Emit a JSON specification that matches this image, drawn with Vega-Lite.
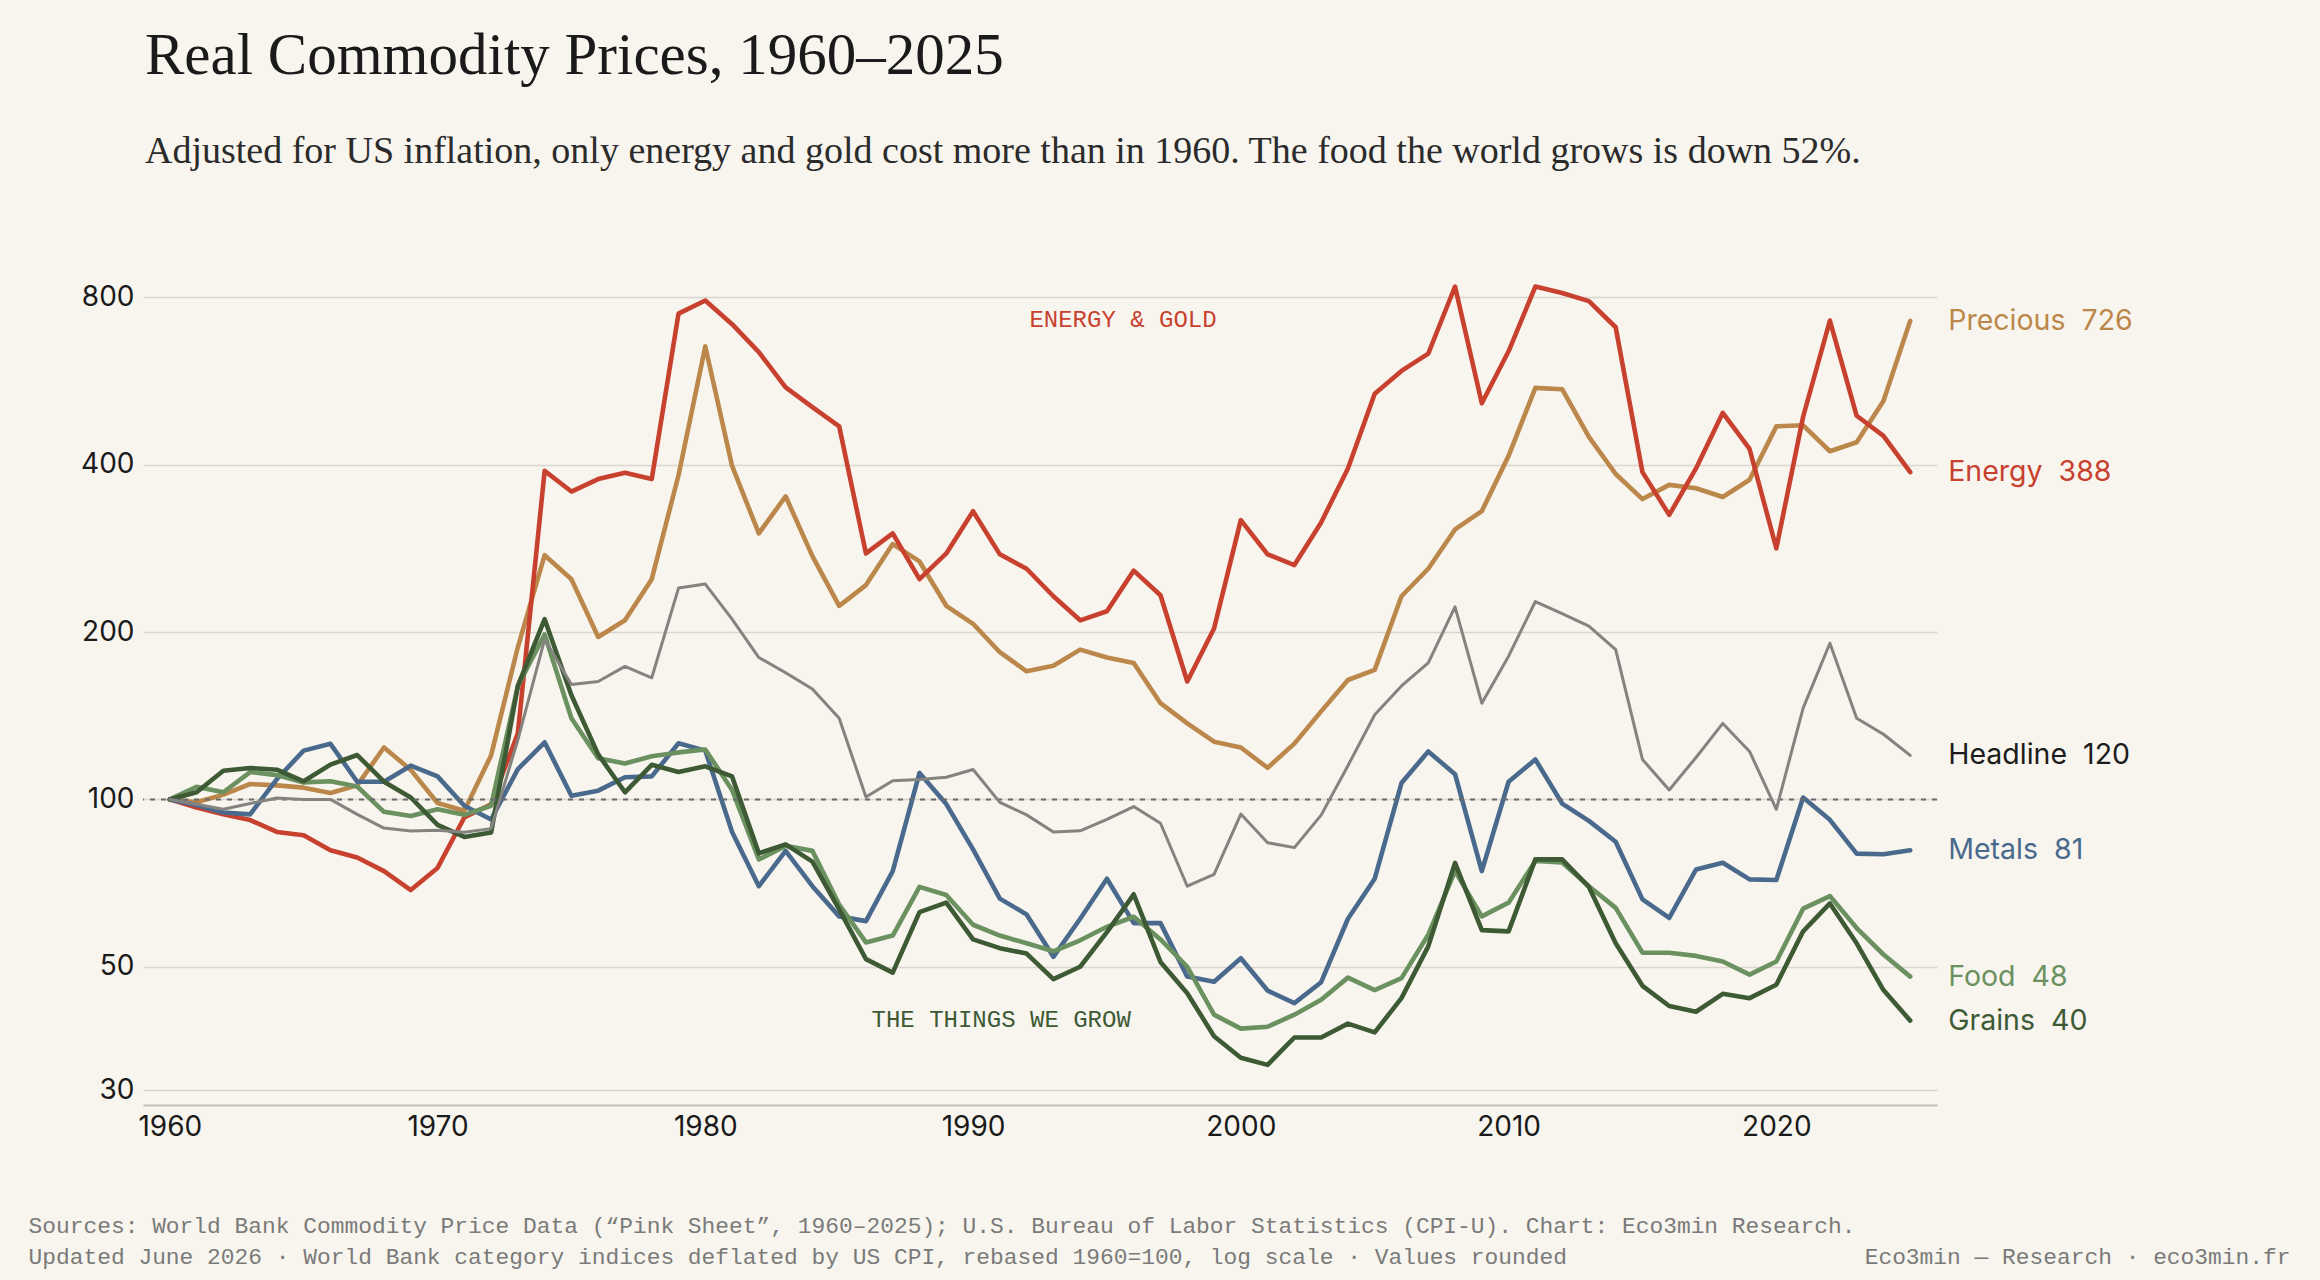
{
  "$schema": "https://vega.github.io/schema/vega-lite/v6.json",
  "width": 1794,
  "height": 836,
  "autosize": {"type": "none"},
  "padding": {"left": 143, "top": 269, "right": 383, "bottom": 175},
  "background": "#f8f5ee",
  "config": {"view": {"stroke": null}, "font": "Inter"},
  "title": {
    "text": "Real Commodity Prices, 1960–2025",
    "subtitle": "Adjusted for US inflation, only energy and gold cost more than in 1960. The food the world grows is down 52%.",
    "anchor": "start",
    "frame": "group",
    "dx": 2,
    "font": "Liberation Serif",
    "fontSize": 59,
    "fontWeight": "normal",
    "color": "#1a1a1a",
    "subtitleFont": "Liberation Serif",
    "subtitleFontSize": 38,
    "subtitleColor": "#2b2b2b",
    "subtitlePadding": 47,
    "offset": 98
  },
  "datasets": {
    "prices": [
      {"year":1960,"Energy":100,"Precious":100,"Headline":100,"Metals":100,"Food":100,"Grains":100},
      {"year":1961,"Energy":96.7,"Precious":98.8,"Headline":98,"Metals":97.7,"Food":105.4,"Grains":103},
      {"year":1962,"Energy":94,"Precious":102,"Headline":96,"Metals":94.7,"Food":103,"Grains":112.6},
      {"year":1963,"Energy":91.8,"Precious":106.6,"Headline":98.3,"Metals":94,"Food":112,"Grains":113.9},
      {"year":1964,"Energy":87.4,"Precious":106,"Headline":100.6,"Metals":108.8,"Food":110.6,"Grains":113.1},
      {"year":1965,"Energy":86.2,"Precious":105,"Headline":100,"Metals":122.4,"Food":107.3,"Grains":107.8},
      {"year":1966,"Energy":81,"Precious":102.7,"Headline":100,"Metals":125.9,"Food":107.8,"Grains":115.5},
      {"year":1967,"Energy":78.6,"Precious":106,"Headline":94,"Metals":107.6,"Food":105.5,"Grains":120.2},
      {"year":1968,"Energy":74.3,"Precious":124,"Headline":88.8,"Metals":107.6,"Food":95,"Grains":107.6},
      {"year":1969,"Energy":68.7,"Precious":113,"Headline":87.7,"Metals":115,"Food":93.4,"Grains":100.8},
      {"year":1970,"Energy":75.3,"Precious":98.5,"Headline":88,"Metals":110,"Food":96,"Grains":90},
      {"year":1971,"Energy":92.8,"Precious":95.4,"Headline":87.3,"Metals":97.4,"Food":93.8,"Grains":85.6},
      {"year":1972,"Energy":98,"Precious":120,"Headline":88.6,"Metals":92,"Food":97.4,"Grains":87.2},
      {"year":1973,"Energy":131.5,"Precious":188,"Headline":128,"Metals":113.4,"Food":160,"Grains":160},
      {"year":1974,"Energy":390,"Precious":275,"Headline":194,"Metals":126.7,"Food":198,"Grains":211},
      {"year":1975,"Energy":358,"Precious":249,"Headline":161,"Metals":101.5,"Food":140,"Grains":154},
      {"year":1976,"Energy":377,"Precious":196,"Headline":163,"Metals":103.7,"Food":118.6,"Grains":120.5},
      {"year":1977,"Energy":387,"Precious":210,"Headline":173.5,"Metals":109.6,"Food":116,"Grains":103},
      {"year":1978,"Energy":377,"Precious":249,"Headline":165.5,"Metals":110,"Food":119.6,"Grains":115.4},
      {"year":1979,"Energy":748,"Precious":383,"Headline":240,"Metals":126.2,"Food":121.5,"Grains":112},
      {"year":1980,"Energy":790,"Precious":653,"Headline":244,"Metals":122.4,"Food":123,"Grains":114.7},
      {"year":1981,"Energy":716,"Precious":398,"Headline":211,"Metals":87.4,"Food":104,"Grains":110},
      {"year":1982,"Energy":638,"Precious":301,"Headline":180,"Metals":69.8,"Food":78,"Grains":80},
      {"year":1983,"Energy":551,"Precious":351,"Headline":169,"Metals":80.8,"Food":82.5,"Grains":83},
      {"year":1984,"Energy":508,"Precious":274,"Headline":158,"Metals":69.8,"Food":80.8,"Grains":77.3},
      {"year":1985,"Energy":469,"Precious":223,"Headline":140,"Metals":61.6,"Food":64.7,"Grains":63.4},
      {"year":1986,"Energy":277,"Precious":243,"Headline":101,"Metals":60.4,"Food":55.3,"Grains":51.6},
      {"year":1987,"Energy":301,"Precious":288,"Headline":108,"Metals":74.3,"Food":56.9,"Grains":48.8},
      {"year":1988,"Energy":249,"Precious":268,"Headline":108.6,"Metals":111.6,"Food":69.6,"Grains":62.7},
      {"year":1989,"Energy":277,"Precious":223,"Headline":109.6,"Metals":98.1,"Food":67.3,"Grains":65.2},
      {"year":1990,"Energy":330,"Precious":207,"Headline":113.2,"Metals":81.3,"Food":59.5,"Grains":56},
      {"year":1991,"Energy":276,"Precious":184,"Headline":98.8,"Metals":66.3,"Food":56.9,"Grains":54},
      {"year":1992,"Energy":260,"Precious":170,"Headline":93.8,"Metals":62.1,"Food":55.1,"Grains":52.8},
      {"year":1993,"Energy":232,"Precious":174,"Headline":87.4,"Metals":52.1,"Food":53.3,"Grains":47.5},
      {"year":1994,"Energy":210,"Precious":186,"Headline":87.8,"Metals":61,"Food":55.8,"Grains":50},
      {"year":1995,"Energy":218,"Precious":180,"Headline":92.1,"Metals":72,"Food":59,"Grains":57.7},
      {"year":1996,"Energy":258,"Precious":176,"Headline":97.1,"Metals":59.9,"Food":61.5,"Grains":67.5},
      {"year":1997,"Energy":233,"Precious":149,"Headline":90.6,"Metals":59.9,"Food":56,"Grains":51},
      {"year":1998,"Energy":163,"Precious":137,"Headline":69.8,"Metals":48,"Food":50,"Grains":44.8},
      {"year":1999,"Energy":203,"Precious":127,"Headline":73.3,"Metals":47,"Food":41,"Grains":37.5},
      {"year":2000,"Energy":318,"Precious":124,"Headline":94.1,"Metals":51.8,"Food":38.7,"Grains":34.3},
      {"year":2001,"Energy":276,"Precious":114,"Headline":83.6,"Metals":45.3,"Food":39,"Grains":33.3},
      {"year":2002,"Energy":264,"Precious":126,"Headline":81.9,"Metals":43,"Food":41,"Grains":37.3},
      {"year":2003,"Energy":315,"Precious":144,"Headline":93.7,"Metals":46.9,"Food":43.6,"Grains":37.3},
      {"year":2004,"Energy":394,"Precious":164,"Headline":115,"Metals":61,"Food":47.8,"Grains":39.5},
      {"year":2005,"Energy":537,"Precious":171,"Headline":142,"Metals":72,"Food":45.4,"Grains":38.1},
      {"year":2006,"Energy":590,"Precious":232,"Headline":160,"Metals":107,"Food":47.7,"Grains":43.9},
      {"year":2007,"Energy":634,"Precious":260,"Headline":176,"Metals":122,"Food":57.1,"Grains":54.4},
      {"year":2008,"Energy":837,"Precious":306,"Headline":222,"Metals":111,"Food":74.3,"Grains":76.9},
      {"year":2009,"Energy":516,"Precious":330,"Headline":149,"Metals":74.3,"Food":61.6,"Grains":58.2},
      {"year":2010,"Energy":640,"Precious":415,"Headline":181,"Metals":107.6,"Food":65.2,"Grains":57.9},
      {"year":2011,"Energy":837,"Precious":550,"Headline":227,"Metals":118,"Food":77.5,"Grains":78},
      {"year":2012,"Energy":815,"Precious":547,"Headline":216,"Metals":98.3,"Food":77,"Grains":78},
      {"year":2013,"Energy":788,"Precious":449,"Headline":205,"Metals":91.5,"Food":69.8,"Grains":69.6},
      {"year":2014,"Energy":707,"Precious":385,"Headline":186,"Metals":83.9,"Food":63.8,"Grains":55.1},
      {"year":2015,"Energy":388,"Precious":347,"Headline":118,"Metals":66.1,"Food":53,"Grains":46.2},
      {"year":2016,"Energy":325,"Precious":368,"Headline":104,"Metals":61.2,"Food":53,"Grains":42.5},
      {"year":2017,"Energy":394,"Precious":363,"Headline":119,"Metals":74.8,"Food":52.3,"Grains":41.5},
      {"year":2018,"Energy":496,"Precious":350,"Headline":137,"Metals":76.9,"Food":51.1,"Grains":44.7},
      {"year":2019,"Energy":427,"Precious":376,"Headline":122,"Metals":71.8,"Food":48.4,"Grains":43.9},
      {"year":2020,"Energy":283,"Precious":469,"Headline":96,"Metals":71.6,"Food":51.1,"Grains":46.4},
      {"year":2021,"Energy":488,"Precious":471,"Headline":146,"Metals":100.8,"Food":63.6,"Grains":57.9},
      {"year":2022,"Energy":727,"Precious":423,"Headline":191,"Metals":91.9,"Food":67,"Grains":65},
      {"year":2023,"Energy":490,"Precious":439,"Headline":140,"Metals":79.9,"Food":58.7,"Grains":55.1},
      {"year":2024,"Energy":451,"Precious":521,"Headline":131,"Metals":79.7,"Food":52.6,"Grains":45.4},
      {"year":2025,"Energy":388,"Precious":726,"Headline":120,"Metals":81,"Food":48,"Grains":40}
    ],
    "ends": [
      {"series":"Precious","year":2025,"value":726,"label":"Precious\u00a0\u00a0726"},
      {"series":"Energy","year":2025,"value":388,"label":"Energy\u00a0\u00a0388"},
      {"series":"Headline","year":2025,"value":120,"label":"Headline\u00a0\u00a0120"},
      {"series":"Metals","year":2025,"value":81,"label":"Metals\u00a0\u00a081"},
      {"series":"Food","year":2025,"value":48,"label":"Food\u00a0\u00a048"},
      {"series":"Grains","year":2025,"value":40,"label":"Grains\u00a0\u00a040"}
    ],
    "notes": [
      {"series":"Energy","year":1995.6,"value":729,"note":"ENERGY & GOLD"},
      {"series":"Grains","year":1991.05,"value":40.1,"note":"THE THINGS WE GROW"}
    ],
    "baseline": [{"year":1960,"value":100}]
  },
  "layer": [
    {
      "data": {"name": "prices"},
      "transform": [
        {"fold": ["Headline", "Precious", "Energy", "Metals", "Food", "Grains"], "as": ["series", "value"]},
        {"filter": "datum.series !== 'Headline'"}
      ],
      "mark": {"type": "line", "strokeJoin": "round", "strokeCap": "round", "strokeWidth": 4.6},
      "encoding": {
        "x": {
          "field": "year", "type": "quantitative",
          "scale": {"domain": [1959, 2026], "nice": false, "zero": false},
          "axis": {
            "values": [1960, 1970, 1980, 1990, 2000, 2010, 2020],
            "format": "d",
            "grid": false,
            "ticks": false,
            "domain": true,
            "domainColor": "#c4c0b8",
            "domainWidth": 2,
            "labelFont": "Inter",
            "labelFontSize": 28,
            "labelColor": "#1a1a1a",
            "labelPadding": 8,
            "title": [
              "Sources: World Bank Commodity Price Data (“Pink Sheet”, 1960–2025); U.S. Bureau of Labor Statistics (CPI-U). Chart: Eco3min Research.",
              "Updated June 2026 · World Bank category indices deflated by US CPI, rebased 1960=100, log scale · Values rounded"
            ],
            "titleX": -115,
            "titleY": 127,
            "titleAlign": "left",
            "titleAnchor": "start",
            "titleBaseline": "alphabetic",
            "titleLineHeight": 31,
            "titleFont": "Liberation Mono",
            "titleFontSize": 22.9,
            "titleFontWeight": "normal",
            "titleColor": "#7a7a7a"
          }
        },
        "y": {
          "field": "value", "type": "quantitative",
          "scale": {"type": "log", "domain": [28.2, 900], "nice": false},
          "axis": {
            "values": [30, 50, 100, 200, 400, 800],
            "format": "d",
            "grid": true,
            "gridColor": "#d9d6d0",
            "gridWidth": 1.5,
            "domain": false,
            "ticks": false,
            "labelFont": "Inter",
            "labelFontSize": 28,
            "labelColor": "#1a1a1a",
            "labelPadding": 9,
            "title": "Eco3min — Research · eco3min.fr",
            "titleAngle": 0,
            "titleX": 2147,
            "titleY": 994,
            "titleAlign": "right",
            "titleBaseline": "alphabetic",
            "titleFont": "Liberation Mono",
            "titleFontSize": 22.9,
            "titleFontWeight": "normal",
            "titleColor": "#7a7a7a"
          }
        },
        "color": {
          "field": "series", "type": "nominal",
          "scale": {"domain": ["Headline", "Precious", "Energy", "Metals", "Food", "Grains"], "range": ["#858380", "#bb874a", "#c8412f", "#4a6a8d", "#6a915f", "#3d5a35"]},
          "legend": null
        },
        "order": {"field": "year", "type": "quantitative"}
      }
    },
    {
      "data": {"name": "baseline"},
      "mark": {"type": "rule", "strokeDash": [5, 6], "strokeWidth": 2, "color": "#6b6b6b"},
      "encoding": {
        "y": {"field": "value", "type": "quantitative", "scale": {"type": "log", "domain": [28.2, 900], "nice": false}}
      }
    },
    {
      "data": {"name": "prices"},
      "transform": [
        {"fold": ["Headline"], "as": ["series", "value"]}
      ],
      "mark": {"type": "line", "strokeJoin": "round", "strokeCap": "round", "strokeWidth": 3},
      "encoding": {
        "x": {"field": "year", "type": "quantitative", "scale": {"domain": [1959, 2026], "nice": false, "zero": false}},
        "y": {"field": "value", "type": "quantitative", "scale": {"type": "log", "domain": [28.2, 900], "nice": false}},
        "color": {
          "field": "series", "type": "nominal",
          "scale": {"domain": ["Headline", "Precious", "Energy", "Metals", "Food", "Grains"], "range": ["#858380", "#bb874a", "#c8412f", "#4a6a8d", "#6a915f", "#3d5a35"]},
          "legend": null
        },
        "order": {"field": "year", "type": "quantitative"}
      }
    },
    {
      "data": {"name": "ends"},
      "mark": {"type": "text", "align": "left", "baseline": "middle", "dx": 38, "font": "Inter", "fontSize": 28.5},
      "encoding": {
        "x": {"field": "year", "type": "quantitative", "scale": {"domain": [1959, 2026], "nice": false, "zero": false}},
        "y": {"field": "value", "type": "quantitative", "scale": {"type": "log", "domain": [28.2, 900], "nice": false}},
        "text": {"field": "label"},
        "color": {
          "condition": {"test": "datum.series === 'Headline'", "value": "#1c1c1c"},
          "field": "series", "type": "nominal",
          "scale": {"domain": ["Headline", "Precious", "Energy", "Metals", "Food", "Grains"], "range": ["#858380", "#bb874a", "#c8412f", "#4a6a8d", "#6a915f", "#3d5a35"]},
          "legend": null
        }
      }
    },
    {
      "data": {"name": "notes"},
      "mark": {"type": "text", "align": "center", "baseline": "middle", "font": "Liberation Mono", "fontSize": 24},
      "encoding": {
        "x": {"field": "year", "type": "quantitative", "scale": {"domain": [1959, 2026], "nice": false, "zero": false}},
        "y": {"field": "value", "type": "quantitative", "scale": {"type": "log", "domain": [28.2, 900], "nice": false}},
        "text": {"field": "note"},
        "color": {
          "field": "series", "type": "nominal",
          "scale": {"domain": ["Headline", "Precious", "Energy", "Metals", "Food", "Grains"], "range": ["#858380", "#bb874a", "#c8412f", "#4a6a8d", "#6a915f", "#3d5a35"]},
          "legend": null
        }
      }
    }
  ]
}
